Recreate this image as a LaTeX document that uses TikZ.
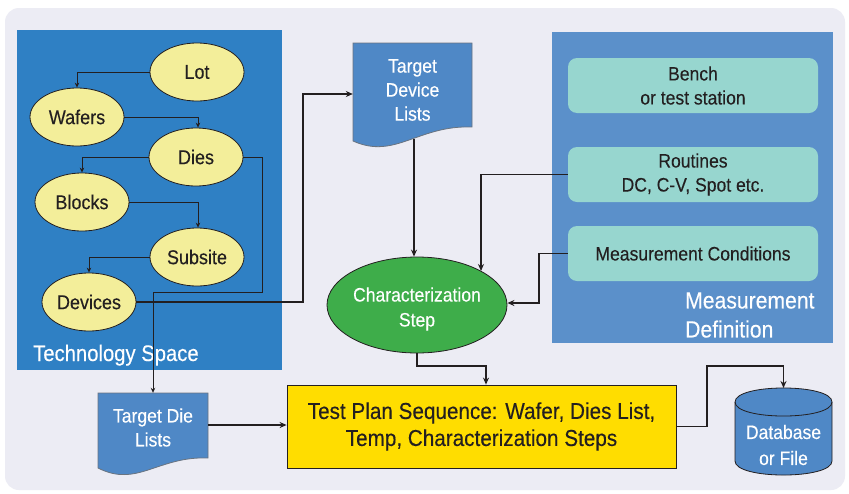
\documentclass[tikz,border=0pt]{standalone}
\usepackage{fontspec}
\setmainfont{Liberation Sans}[FakeStretch=0.9,FakeBold=0.25]
\usetikzlibrary{arrows.meta,shapes.geometric,calc}
\definecolor{bgc}{HTML}{ECECF4}
\definecolor{techblue}{HTML}{2F80C4}
\definecolor{measblue}{HTML}{5B90CA}
\definecolor{yel}{HTML}{F3EE9A}
\definecolor{teal1}{HTML}{97D6CF}
\definecolor{grn}{HTML}{3EAD4A}
\definecolor{docblue}{HTML}{4F88C6}
\definecolor{docedge}{HTML}{6A7480}
\definecolor{tpyel}{HTML}{FFDD00}
\definecolor{linec}{HTML}{231F20}
\definecolor{txt}{HTML}{231F20}
\tikzset{
 ell/.style={ellipse, draw=linec, line width=0.8pt, fill=yel, minimum width=94pt, minimum height=58pt, inner sep=0pt, font=\fontsize{20}{24}\selectfont, text=txt},
 tealbox/.style={rectangle, rounded corners=9pt, fill=teal1, minimum width=250pt, minimum height=55pt, inner sep=0pt, align=center, font=\fontsize{19.5}{24}\selectfont, text=txt},
 thinarr/.style={draw=linec, line width=0.9pt, -{Stealth[length=5pt,width=4.5pt]}},
 thickarr/.style={draw=linec, line width=1.6pt, -{Stealth[length=7pt,width=6pt]}},
 doctext/.style={rectangle, inner sep=0pt, align=center, text=white, font=\fontsize{19.5}{24}\selectfont},
 docshape/.style={fill=docblue, draw=docedge, line width=0.8pt},
 paneltext/.style={text=white, inner sep=0pt, align=left, font=\fontsize{22.5}{29}\selectfont},
}
\begin{document}
\begin{tikzpicture}[x=1pt,y=-1pt]
\useasboundingbox (0,0) rectangle (849,493);
\fill[white] (0,0) rectangle (849,493);
\fill[bgc, rounded corners=14pt] (5,8) rectangle (845,490);
% panels
\fill[techblue] (17,30) rectangle (282,370);
\fill[measblue] (552,32) rectangle (833,343);
\node[paneltext, anchor=base west] (techlbl) at (33,361) {Technology Space};
\node[paneltext, anchor=west, font=\fontsize{23.5}{29}\selectfont] (measlbl) at (685,315) {Measurement\\Definition};
% ellipses
\node[ell] (lot) at (197,72) {Lot};
\node[ell] (wafers) at (77,117) {Wafers};
\node[ell] (dies) at (196,157) {Dies};
\node[ell] (blocks) at (82,202) {Blocks};
\node[ell] (subsite) at (197,257) {Subsite};
\node[ell] (devices) at (89,302) {Devices};
% teal boxes
\node[tealbox] (bench) at (693,85.5) {Bench\\or test station};
\node[tealbox] (rout) at (693,174.5) {Routines\\DC, C-V, Spot etc.};
\node[tealbox] (mc) at (693,253.5) {Measurement Conditions};
% target device lists document shape
\draw[docshape] (353,43) -- (472,43) -- (472,127) .. controls (418,125) and (395,160) .. (353,141) -- cycle;
\node[doctext, minimum width=119pt, minimum height=98pt] (tdev) at (412.5,90) {Target\\Device\\Lists};
% target die lists document shape
\draw[docshape] (98,393) -- (208,393) -- (208,458) .. controls (158,456) and (137,488) .. (98,468) -- cycle;
\node[doctext, minimum width=110pt, minimum height=69pt] (tdie) at (153,427.5) {Target Die\\Lists};
% characterization step
\node[ellipse, draw=linec, line width=0.8pt, fill=grn, minimum width=180pt, minimum height=96pt, inner sep=0pt,
  label={[yshift=-4pt, inner sep=0pt, align=center, text=white, font=\fontsize{19.5}{25}\selectfont]center:{Characterization\\Step}}] (char) at (417,305) {};
% test plan
\node[rectangle, draw=linec, line width=0.8pt, fill=tpyel, minimum width=389pt, minimum height=83pt, inner sep=0pt, align=center, text=txt, font=\fontsize{23}{27}\selectfont] (tp) at (481.5,426.5) {Test Plan Sequence: Wafer, Dies List,\\Temp, Characterization Steps};
% database cylinder
\draw[fill=docblue, draw=linec, line width=0.8pt] (735,402) -- (735,461) .. controls (735,479.7) and (832,479.7) .. (832,461) -- (832,402) .. controls (832,383.3) and (735,383.3) .. (735,402) -- cycle;
\draw[draw=linec, line width=0.8pt] (735,402) .. controls (735,420.7) and (832,420.7) .. (832,402);
\node[rectangle, inner sep=0pt, minimum width=97pt, minimum height=59pt, align=center, text=white, font=\fontsize{19.5}{26}\selectfont] (db) at (783.5,445) {Database\\or File};
\coordinate (dbtop) at (783.5,388);
% coordinates for connectors
\coordinate (c1) at (262,292);
\coordinate (c2) at (303,94);
\coordinate (c3) at (481,271);
\coordinate (c5) at (486,366);
\coordinate (c6) at (707,366);
% thin connectors
\draw[thinarr] (lot.west) -| (wafers.north);
\draw[thinarr] (wafers.east) -| ([xshift=2pt]dies.north);
\draw[thinarr] (dies.west) -| (blocks.north);
\draw[thinarr] (blocks.east) -| ([xshift=1pt]subsite.north);
\draw[thinarr] (subsite.west) -| (devices.north);
\draw[thinarr] (dies.east) -| (c1) -| (tdie.north);
% thick connectors
\draw[thickarr] (devices.east) -| (c2) -- (tdev.west |- c2);
\draw[thickarr] ([xshift=1.5pt]tdev.south) -- ([xshift=1.5pt]tdev.south |- char.north);
\draw[thickarr] (rout.west) -| (c3);
\draw[thickarr] (mc.west) -- ++(-29,0) |- ([yshift=2pt]char.east);
\draw[thickarr] (char.south) |- (c5) -- (c5 |- tp.north);
\draw[thickarr] ([yshift=2.5pt]tdie.east) -- ([yshift=2.5pt]tdie.east -| tp.west);
\draw[thickarr] (tp.east) -| (c6) -| (dbtop);
\end{tikzpicture}
\end{document}
